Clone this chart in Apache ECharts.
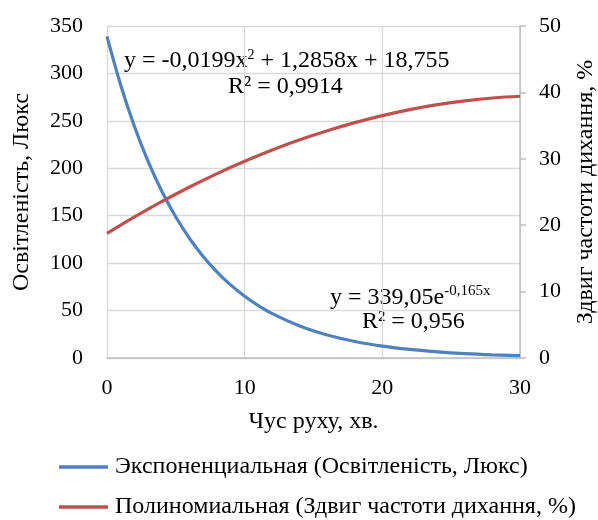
<!DOCTYPE html>
<html><head><meta charset="utf-8">
<script src="https://cdn.jsdelivr.net/npm/echarts@6/dist/echarts.min.js"></script>
<style>html,body{margin:0;padding:0;background:#fff}#c{width:598px;height:520px}</style>
</head><body><div id="c"></div>
<script>
const timeX = [0,1,2,3,4,5,6,7,8,9,10,11,12,14,16,18,20,22,24,26,28,30];
const illum = [339.05,287.5,243.7,206.7,175.2,148.6,126.0,106.8,90.6,76.8,65.1,55.2,46.8,33.7,24.2,17.4,12.5,9.0,6.5,4.6,3.3,2.4];
const timeX2 = [0,2,4,6,8,10,12,14,16,18,20,22,24,26,28,30];
const breath = [18.76,21.25,23.58,25.75,27.77,29.62,31.32,32.86,34.23,35.45,36.51,37.41,38.15,38.73,39.16,39.42];
const leftTicks = [0,50,100,150,200,250,300,350];
const rightTicks = [0,10,20,30,40,50];
const xTicks = [0,10,20,30];
const seriesNames = ['Экспоненциальная (Освітленість, Люкс)','Полиномиальная (Здвиг частоти дихання, %)'];

const F = 'Liberation Serif';
const chart = echarts.init(document.getElementById('c'));
const txt = {fontFamily:F, fontSize:24, color:'#000'};
const tick = {fontFamily:F, fontSize:22, color:'#000'};
chart.setOption({
  animation:false,
  textStyle:{fontFamily:F},
  grid:{left:107,right:78,top:26,bottom:162,outerBoundsMode:'none',containLabel:false},
  xAxis:{type:'value',min:xTicks[0],max:xTicks[xTicks.length-1],interval:10,
    name:'Чус руху, хв.',nameLocation:'middle',nameGap:52,nameTextStyle:txt,
    axisLine:{lineStyle:{color:'#bfbfbf',width:1.5}},axisTick:{show:false},
    axisLabel:Object.assign({margin:19},tick),
    splitLine:{lineStyle:{color:'#d9d9d9',width:1.3}}},
  yAxis:[
    {type:'value',min:leftTicks[0],max:leftTicks[leftTicks.length-1],interval:50,
     name:'Освітленість, Люкс',nameLocation:'middle',nameGap:73,nameRotate:90,nameTextStyle:txt,
     axisLine:{show:false},axisTick:{show:false},axisLabel:Object.assign({margin:24},tick),
     splitLine:{lineStyle:{color:'#d9d9d9',width:1.3}}},
    {type:'value',min:rightTicks[0],max:rightTicks[rightTicks.length-1],interval:10,position:'right',
     name:'Здвиг частоти дихання, %',nameLocation:'middle',nameGap:54,nameRotate:90,nameTextStyle:txt,
     axisLine:{show:true,lineStyle:{color:'#bfbfbf',width:1.5}},
     axisTick:{show:true,length:6,lineStyle:{color:'#bfbfbf',width:1.5}},
     axisLabel:Object.assign({margin:19},tick),splitLine:{show:false}}
  ],
  legend:{orient:'vertical',left:59,top:455,height:65,padding:0,itemGap:16,itemWidth:49,itemHeight:3.5,icon:'rect',
    textStyle:Object.assign({padding:[0,0,0,2]},txt),data:seriesNames},
  series:[
    {name:seriesNames[0],type:'line',yAxisIndex:0,smooth:0.4,symbol:'none',
     lineStyle:{color:'#4f81bd',width:3.2},itemStyle:{color:'#4f81bd'},
     data:timeX.map((x,i)=>[x,illum[i]])},
    {name:seriesNames[1],type:'line',yAxisIndex:1,smooth:0.4,symbol:'none',
     lineStyle:{color:'#c0504d',width:3.2},itemStyle:{color:'#c0504d'},
     data:timeX2.map((x,i)=>[x,breath[i]])}
  ],
  graphic:[
    {type:'text',left:124,top:48,style:{text:'y = -0,0199x{s|2} + 1,2858x + 18,755',font:'24px "Liberation Serif"',fill:'#000',
      rich:{s:{fontSize:14,padding:[0,0,12,0],fontFamily:F}}}},
    {type:'text',left:228,top:75,style:{text:'R² = 0,9914',font:'24px "Liberation Serif"',fill:'#000'}},
    {type:'text',left:330,top:284,style:{text:'y = 339,05e{s|-0,165x}',font:'24px "Liberation Serif"',fill:'#000',
      rich:{s:{fontSize:15,padding:[0,0,12,0],fontFamily:F}}}},
    {type:'text',left:362,top:310,style:{text:'R² = 0,956',font:'24px "Liberation Serif"',fill:'#000'}}
  ]
});
</script></body></html>
